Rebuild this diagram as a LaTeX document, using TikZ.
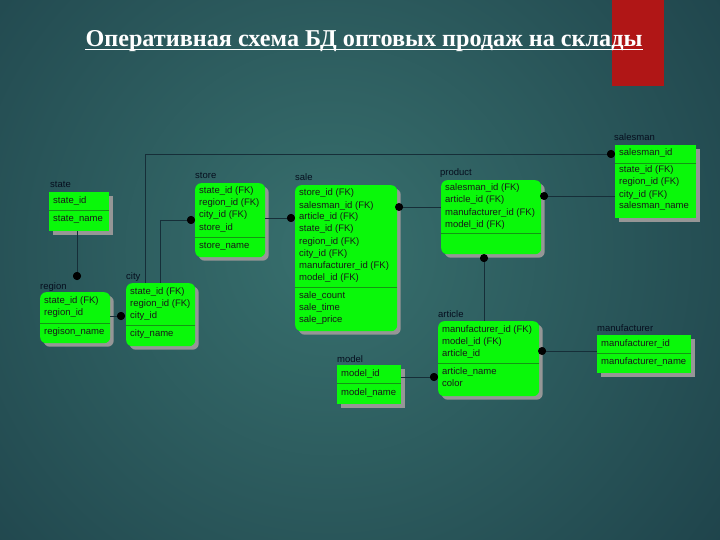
\documentclass[tikz,border=0pt]{standalone}
\usepackage{fontspec}
\setmainfont{Liberation Sans}
\newfontfamily\titlefont{Liberation Serif}
\usetikzlibrary{shadows}
\definecolor{bgin}{RGB}{56,112,110}
\definecolor{bgout}{RGB}{14,38,52}
\definecolor{redbar}{RGB}{176,22,22}
\definecolor{boxg}{RGB}{10,248,10}
\definecolor{divg}{RGB}{20,150,20}
\definecolor{lblc}{RGB}{6,14,30}
\definecolor{connc}{RGB}{22,46,56}
\definecolor{shadc}{RGB}{150,150,150}
\tikzset{
  ent/.style={fill=boxg, draw=none, anchor=north west, inner sep=0pt,
    drop shadow={shadow xshift=3.5pt, shadow yshift=-3.5pt, fill=shadc, opacity=1}},
  dep/.style={ent, rounded corners=6pt},
  tblrow/.style={anchor=base west, inner sep=0pt, font=\fontsize{9.5}{11}\selectfont, text=black!90},
  tbllab/.style={anchor=base west, inner sep=0pt, font=\fontsize{9.5}{11}\selectfont, text=lblc},
  divline/.style={draw=divg, line width=0.6pt},
  connline/.style={draw=connc, line width=0.9pt},
  jdot/.style={circle, fill=black, inner sep=0pt, minimum size=8pt},
}
\begin{document}
\begin{tikzpicture}[x=1pt,y=-1pt]
\useasboundingbox (0,0) rectangle (720,540);
\begin{scope}
  \clip (0,0) rectangle (720,540);
  \shade[inner color=bgin, outer color=bgout] (330,250) circle (820);
\end{scope}
\fill[redbar] (612,0) rectangle (664,86);
\node[inner sep=0pt, anchor=base, text=white, font=\titlefont\bfseries\fontsize{24.2}{28}\selectfont] (title) at (364,47) {Оперативная схема БД оптовых продаж на склады};
\draw[white, line width=1.3pt] ([yshift=-2.5pt]title.base west) -- ([yshift=-2.5pt]title.base east);

% connector bends and dots
\coordinate (c1) at (145,154);
\coordinate (c2) at (160,220);
\node[jdot] (d1) at (611,154) {};
\node[jdot] (d2) at (191,220) {};
\node[jdot] (d3) at (77,276) {};
\node[jdot] (d4) at (121,316) {};
\node[jdot] (d5) at (291,218) {};
\node[jdot] (d6) at (399,207) {};
\node[jdot] (d7) at (544,196) {};
\node[jdot] (d8) at (484,258) {};
\node[jdot] (d9) at (542,351) {};
\node[jdot] (d10) at (434,377) {};

% tables
% state
\node[ent, minimum width=60pt, minimum height=39pt] (state) at (49,192) {};
\node[tbllab] (state-l) at (50,188) {state};
\draw[divline] (state.west |- 0,210) -- (state.east |- 0,210);
\node[tblrow] (state-k1) at (53,204) {state\_id};
\node[tblrow] (state-a1) at (53,222) {state\_name};

% store
\node[dep, minimum width=70pt, minimum height=74pt] (store) at (195,183) {};
\node[tbllab] (store-l) at (195,179) {store};
\draw[divline] (store.west |- 0,237) -- (store.east |- 0,237);
\foreach \t [count=\i] in {state\_id (FK), region\_id (FK), city\_id (FK), store\_id}
  \node[tblrow] (store-k\i) at (199,{194+12*(\i-1)}) {\t};
\node[tblrow] (store-a1) at (199,248) {store\_name};

% sale
\node[dep, minimum width=102pt, minimum height=146pt] (sale) at (295,185) {};
\node[tbllab] (sale-l) at (295,181) {sale};
\draw[divline] (sale.west |- 0,287) -- (sale.east |- 0,287);
\foreach \t [count=\i] in {store\_id (FK), salesman\_id (FK), article\_id (FK), state\_id (FK), region\_id (FK), city\_id (FK), manufacturer\_id (FK), model\_id (FK)}
  \node[tblrow] (sale-k\i) at (299,{196+12*(\i-1)}) {\t};
\foreach \t [count=\i] in {sale\_count, sale\_time, sale\_price}
  \node[tblrow] (sale-a\i) at (299,{298+12*(\i-1)}) {\t};

% product
\node[dep, minimum width=100pt, minimum height=74pt] (product) at (441,180) {};
\node[tbllab] (product-l) at (440,176) {product};
\draw[divline] (product.west |- 0,233) -- (product.east |- 0,233);
\foreach \t [count=\i] in {salesman\_id (FK), article\_id (FK), manufacturer\_id (FK), model\_id (FK)}
  \node[tblrow] (product-k\i) at (445,{191+12*(\i-1)}) {\t};

% salesman
\node[ent, minimum width=81pt, minimum height=73pt] (salesman) at (615,145) {};
\node[tbllab] (salesman-l) at (614,141) {salesman};
\draw[divline] (salesman.west |- 0,163) -- (salesman.east |- 0,163);
\node[tblrow] (salesman-k1) at (619,156) {salesman\_id};
\foreach \t [count=\i] in {state\_id (FK), region\_id (FK), city\_id (FK), salesman\_name}
  \node[tblrow] (salesman-a\i) at (619,{173+12*(\i-1)}) {\t};

% region
\node[dep, minimum width=70pt, minimum height=51pt] (region) at (40,292) {};
\node[tbllab] (region-l) at (40,289) {region};
\draw[divline] (region.west |- 0,323) -- (region.east |- 0,323);
\foreach \t [count=\i] in {state\_id (FK), region\_id}
  \node[tblrow] (region-k\i) at (44,{303+12*(\i-1)}) {\t};
\node[tblrow] (region-a1) at (44,334) {regison\_name};

% city
\node[dep, minimum width=69pt, minimum height=63pt] (city) at (126,283) {};
\node[tbllab] (city-l) at (126,279) {city};
\draw[divline] (city.west |- 0,325) -- (city.east |- 0,325);
\foreach \t [count=\i] in {state\_id (FK), region\_id (FK), city\_id}
  \node[tblrow] (city-k\i) at (130,{294+12*(\i-1)}) {\t};
\node[tblrow] (city-a1) at (130,336) {city\_name};

% model
\node[ent, minimum width=64pt, minimum height=39pt] (model) at (337,365) {};
\node[tbllab] (model-l) at (337,362) {model};
\draw[divline] (model.west |- 0,383) -- (model.east |- 0,383);
\node[tblrow] (model-k1) at (341,376) {model\_id};
\node[tblrow] (model-a1) at (341,395) {model\_name};

% article
\node[dep, minimum width=101pt, minimum height=75pt] (article) at (438,321) {};
\node[tbllab] (article-l) at (438,317) {article};
\draw[divline] (article.west |- 0,363) -- (article.east |- 0,363);
\foreach \t [count=\i] in {manufacturer\_id (FK), model\_id (FK), article\_id}
  \node[tblrow] (article-k\i) at (442,{332+12*(\i-1)}) {\t};
\foreach \t [count=\i] in {article\_name, color}
  \node[tblrow] (article-a\i) at (442,{374+12*(\i-1)}) {\t};

% manufacturer
\node[ent, minimum width=94pt, minimum height=38pt] (manufacturer) at (597,335) {};
\node[tbllab] (manufacturer-l) at (597,331) {manufacturer};
\draw[divline] (manufacturer.west |- 0,353) -- (manufacturer.east |- 0,353);
\node[tblrow] (manufacturer-k1) at (601,346) {manufacturer\_id};
\node[tblrow] (manufacturer-a1) at (601,364) {manufacturer\_name};

% connectors
\draw[connline] (city.north -| c1) -- (c1) -- (d1);
\draw[connline] (city.north -| c2) -- (c2) -- (d2);
\draw[connline] (state.south -| d3) -- (d3);
\draw[connline] (region.east |- d4) -- (d4);
\draw[connline] (store.east |- d5) -- (d5);
\draw[connline] (product.west |- d6) -- (d6);
\draw[connline] (salesman.west |- d7) -- (d7);
\draw[connline] (article.north -| d8) -- (d8);
\draw[connline] (manufacturer.west |- d9) -- (d9);
\draw[connline] (model.east |- d10) -- (d10);
% dots on top
\foreach \n in {d1,d2,d3,d4,d5,d6,d7,d8,d9,d10}
  \fill[black] (\n) circle (4);
\end{tikzpicture}
\end{document}
